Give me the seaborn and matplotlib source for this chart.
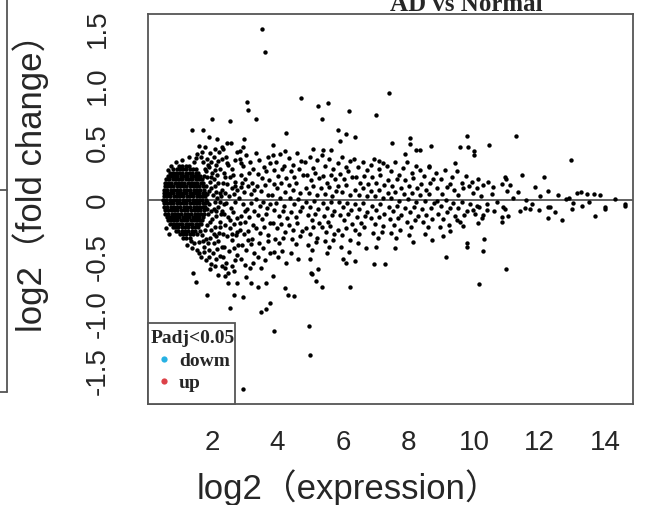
import matplotlib
matplotlib.use("Agg")
import matplotlib.pyplot as plt
from matplotlib.lines import Line2D
from matplotlib.patches import Rectangle
import seaborn as sns
import pandas as pd

# ---------------- data ----------------
x_ticks = [2, 4, 6, 8, 10, 12, 14]
y_ticks = [-1.5, -1.0, -0.5, 0, 0.5, 1.0, 1.5]
y_tick_labels = ["-1.5", "-1.0", "-0.5", "0", "0.5", "1.0", "1.5"]
title_text = "AD vs Normal"
x_label = "log2\uff08expression\uff09"
y_label = "log2\uff08fold change\uff09"
legend_title = "Padj<0.05"
legend_labels = ["dowm", "up"]
legend_colors = ["#27b1e3", "#dc4148"]

# dense core of low-expression genes: one y level per row
blob_y_levels = [0.30, 0.27, 0.24, 0.21, 0.18, 0.15, 0.12, 0.09, 0.06, 0.03, 0.00,
                 -0.03, -0.06, -0.09, -0.12, -0.15, -0.18, -0.21, -0.24, -0.27, -0.30, -0.33]
blob_x_rows = [
    [1.00, 1.10, 1.20, 1.30],
    [0.82, 0.92, 1.02, 1.12, 1.22, 1.32, 1.42, 1.50],
    [0.72, 0.80, 0.90, 1.00, 1.10, 1.20, 1.30, 1.40, 1.50, 1.58],
    [0.66, 0.75, 0.85, 0.95, 1.05, 1.15, 1.25, 1.35, 1.45, 1.55, 1.64],
    [0.61, 0.70, 0.80, 0.90, 1.00, 1.10, 1.20, 1.30, 1.40, 1.50, 1.60, 1.69],
    [0.58, 0.66, 0.76, 0.86, 0.96, 1.06, 1.16, 1.26, 1.36, 1.46, 1.56, 1.66, 1.72],
    [0.56, 0.63, 0.72, 0.82, 0.92, 1.02, 1.12, 1.22, 1.32, 1.42, 1.52, 1.62, 1.74],
    [0.55, 0.64, 0.74, 0.84, 0.94, 1.04, 1.14, 1.24, 1.34, 1.44, 1.54, 1.64, 1.76],
    [0.54, 0.62, 0.72, 0.82, 0.92, 1.02, 1.12, 1.22, 1.32, 1.42, 1.52, 1.62, 1.72, 1.79],
    [0.53, 0.63, 0.73, 0.83, 0.93, 1.03, 1.13, 1.23, 1.33, 1.43, 1.53, 1.63, 1.73, 1.80],
    [0.52, 0.61, 0.71, 0.81, 0.91, 1.01, 1.11, 1.21, 1.31, 1.41, 1.51, 1.61, 1.71, 1.81],
    [0.53, 0.62, 0.72, 0.82, 0.92, 1.02, 1.12, 1.22, 1.32, 1.42, 1.52, 1.62, 1.72, 1.80],
    [0.54, 0.64, 0.74, 0.84, 0.94, 1.04, 1.14, 1.24, 1.34, 1.44, 1.54, 1.64, 1.74, 1.80],
    [0.56, 0.65, 0.75, 0.85, 0.95, 1.05, 1.15, 1.25, 1.35, 1.45, 1.55, 1.65, 1.77],
    [0.58, 0.67, 0.77, 0.87, 0.97, 1.07, 1.17, 1.27, 1.37, 1.47, 1.57, 1.67, 1.75],
    [0.62, 0.71, 0.81, 0.91, 1.01, 1.11, 1.21, 1.31, 1.41, 1.51, 1.61, 1.72],
    [0.66, 0.75, 0.85, 0.95, 1.05, 1.15, 1.25, 1.35, 1.45, 1.55, 1.65, 1.70],
    [0.72, 0.80, 0.90, 1.00, 1.10, 1.20, 1.30, 1.40, 1.50, 1.60, 1.66],
    [0.80, 0.88, 0.98, 1.08, 1.18, 1.28, 1.38, 1.48, 1.58],
    [0.90, 0.98, 1.08, 1.18, 1.28, 1.38, 1.48],
    [1.02, 1.12, 1.22, 1.32, 1.42],
    [1.12, 1.22, 1.32],
]

halo_points = [
    (1.62, 0.47), (1.79, 0.46), (1.66, 0.38), (1.72, 0.33), (1.85, 0.36), (1.95, 0.41),
    (2.05, 0.38), (2.12, 0.31), (1.90, 0.29), (1.78, 0.27), (2.00, 0.24), (2.15, 0.22),
    (2.25, 0.27), (1.85, 0.20), (1.95, 0.16), (2.08, 0.12), (2.20, 0.15), (2.30, 0.09),
    (1.90, 0.08), (2.02, 0.04), (2.15, 0.02), (2.28, 0.03), (1.92, -0.04), (2.05, -0.08),
    (2.18, -0.06), (2.32, -0.10), (1.88, -0.12), (2.00, -0.17), (2.12, -0.14), (2.26, -0.19),
    (1.84, -0.22), (1.96, -0.26), (2.10, -0.24), (2.22, -0.29), (1.70, -0.31), (1.82, -0.34),
    (1.95, -0.33), (2.06, -0.38), (2.20, -0.36), (1.62, -0.37), (1.75, -0.41), (1.90, -0.44),
    (2.02, -0.47), (2.15, -0.43), (2.30, -0.41), (1.55, -0.44), (1.68, -0.50), (1.82, -0.53),
    (1.98, -0.56), (2.12, -0.52), (1.45, -0.38), (1.35, -0.36), (1.25, -0.40), (0.90, 0.33),
    (1.10, 0.35), (1.30, 0.38), (1.45, 0.33), (1.55, 0.40), (0.75, 0.30), (0.65, 0.26),
    (0.60, -0.25), (0.70, -0.30), (1.55, -0.30), (1.65, -0.27),
    (1.82, 0.12), (1.86, 0.05), (1.84, -0.02), (1.86, -0.08), (1.83, 0.25), (1.88, 0.31),
    (1.76, 0.21), (1.98, 0.33), (2.08, 0.26), (2.18, 0.34), (1.93, -0.19), (2.05, -0.30),
    (1.78, -0.26), (1.74, -0.36), (1.88, -0.38), (2.12, -0.32), (2.24, -0.24), (2.35, -0.30),
    (2.28, -0.12), (2.38, -0.04), (2.34, 0.15), (2.24, 0.06), (2.12, 0.07), (1.98, 0.10),
    (1.96, 0.20), (2.06, 0.18), (2.10, -0.02), (1.98, -0.10), (2.14, -0.10), (2.24, -0.02),
    (2.40, 0.20), (2.45, 0.32), (2.32, 0.36), (2.22, 0.42), (2.10, 0.45), (1.70, 0.42),
    (1.50, 0.37), (1.40, -0.42), (1.60, -0.47), (1.75, -0.46), (1.92, -0.50), (2.08, -0.58),
    (2.25, -0.49), (2.30, -0.58), (2.40, -0.60), (2.20, -0.66), (2.65, 0.22), (2.55, -0.18),
    (2.62, -0.30), (2.70, 0.12), (2.80, -0.40), (2.90, 0.32), (3.00, -0.10), (3.10, -0.35),
    (2.85, -0.20), (2.92, 0.15),
]

band_low_points = [  # x 2.3 - 4.3
    (2.35, 0.45), (2.42, 0.38), (2.50, 0.31), (2.38, 0.24), (2.55, 0.20), (2.62, 0.27),
    (2.70, 0.35), (2.78, 0.42), (2.45, 0.14), (2.60, 0.10), (2.72, 0.16), (2.40, 0.06),
    (2.52, 0.03), (2.66, 0.05), (2.76, 0.09), (2.44, -0.03), (2.58, -0.07), (2.70, -0.02),
    (2.36, -0.12), (2.50, -0.15), (2.64, -0.11), (2.77, -0.16), (2.40, -0.22), (2.55, -0.25),
    (2.68, -0.21), (2.78, -0.28), (2.46, -0.32), (2.60, -0.35), (2.74, -0.31), (2.38, -0.41),
    (2.52, -0.45), (2.66, -0.42), (2.78, -0.48), (2.44, -0.55), (2.60, -0.58), (2.72, -0.53),
    (2.50, -0.64), (2.68, -0.62), (2.35, -0.50), (2.58, 0.50),
    (2.85, 0.36), (2.95, 0.30), (3.05, 0.39), (3.15, 0.33), (3.25, 0.27), (2.90, 0.22),
    (3.00, 0.18), (3.12, 0.24), (3.22, 0.15), (2.88, 0.11), (2.98, 0.07), (3.10, 0.12),
    (3.20, 0.05), (3.28, 0.09), (2.84, 0.02), (2.94, -0.04), (3.06, -0.08), (3.18, -0.03),
    (3.27, -0.10), (2.90, -0.14), (3.02, -0.19), (3.14, -0.15), (3.24, -0.22), (2.86, -0.26),
    (2.98, -0.30), (3.10, -0.27), (3.22, -0.34), (2.92, -0.40), (3.05, -0.44), (3.18, -0.39),
    (3.28, -0.47), (2.88, -0.52), (3.00, -0.57), (3.15, -0.60), (3.26, -0.55), (2.95, 0.46),
    (3.35, 0.41), (3.45, 0.35), (3.58, 0.29), (3.70, 0.38), (3.78, 0.32), (3.40, 0.23),
    (3.52, 0.19), (3.64, 0.25), (3.75, 0.17), (3.38, 0.12), (3.50, 0.08), (3.62, 0.13),
    (3.72, 0.04), (3.34, 0.01), (3.46, -0.05), (3.56, -0.02), (3.68, -0.07), (3.78, -0.04),
    (3.42, -0.13), (3.54, -0.17), (3.66, -0.12), (3.76, -0.20), (3.36, -0.25), (3.48, -0.29),
    (3.60, -0.24), (3.72, -0.31), (3.44, -0.38), (3.56, -0.42), (3.70, -0.36), (3.40, -0.50),
    (3.62, -0.53), (3.76, -0.47), (3.50, -0.60),
    (3.85, 0.39), (3.95, 0.33), (4.08, 0.40), (4.20, 0.30), (3.90, 0.26), (4.02, 0.21),
    (4.14, 0.27), (4.26, 0.19), (3.88, 0.14), (4.00, 0.10), (4.12, 0.15), (4.24, 0.07),
    (3.84, 0.04), (3.96, -0.03), (4.08, 0.02), (4.20, -0.05), (3.90, -0.09), (4.04, -0.14),
    (4.16, -0.10), (4.28, -0.16), (3.86, -0.20), (3.98, -0.25), (4.10, -0.21), (4.22, -0.28),
    (3.92, -0.34), (4.06, -0.38), (4.18, -0.33), (3.88, -0.46), (4.02, -0.50), (4.14, -0.45),
    (4.26, -0.55),
]

band_mid_points = [  # x 4.3 - 7.3
    (4.35, 0.37), (4.48, 0.31), (4.60, 0.41), (4.72, 0.34), (4.40, 0.25), (4.52, 0.20),
    (4.66, 0.27), (4.78, 0.22), (4.34, 0.13), (4.46, 0.09), (4.58, 0.15), (4.70, 0.06),
    (4.38, 0.02), (4.50, -0.04), (4.62, 0.01), (4.74, -0.06), (4.42, -0.11), (4.56, -0.15),
    (4.68, -0.10), (4.36, -0.22), (4.48, -0.26), (4.60, -0.20), (4.74, -0.27), (4.44, -0.34),
    (4.58, -0.39), (4.70, -0.32), (4.40, -0.47), (4.64, -0.52),
    (4.85, 0.33), (4.98, 0.38), (5.10, 0.28), (5.22, 0.35), (4.90, 0.22), (5.02, 0.17),
    (5.14, 0.24), (5.26, 0.19), (4.86, 0.10), (4.96, 0.06), (5.08, 0.12), (5.20, 0.04),
    (4.88, -0.02), (5.00, -0.06), (5.12, -0.01), (5.24, -0.08), (4.92, -0.13), (5.04, -0.18),
    (5.16, -0.12), (5.28, -0.20), (4.86, -0.25), (4.98, -0.30), (5.10, -0.24), (5.22, -0.33),
    (4.94, -0.40), (5.06, -0.44), (5.18, -0.37), (5.00, -0.52),
    (5.35, 0.39), (5.46, 0.30), (5.58, 0.36), (5.70, 0.27), (5.40, 0.21), (5.52, 0.15),
    (5.64, 0.22), (5.76, 0.18), (5.34, 0.10), (5.44, 0.05), (5.56, 0.11), (5.68, 0.03),
    (5.78, 0.08), (5.38, -0.03), (5.50, -0.07), (5.62, -0.02), (5.74, -0.10), (5.42, -0.14),
    (5.54, -0.19), (5.66, -0.13), (5.36, -0.24), (5.48, -0.28), (5.60, -0.23), (5.72, -0.30),
    (5.44, -0.36), (5.58, -0.41), (5.70, -0.35), (5.52, -0.47),
    (5.84, 0.32), (5.96, 0.38), (6.08, 0.29), (6.20, 0.34), (5.90, 0.23), (6.02, 0.18),
    (6.14, 0.25), (6.26, 0.20), (5.86, 0.12), (5.98, 0.07), (6.10, 0.13), (6.22, 0.04),
    (5.88, -0.02), (6.00, -0.06), (6.12, -0.03), (6.24, -0.09), (5.92, -0.13), (6.04, -0.18),
    (6.16, -0.12), (6.28, -0.21), (5.86, -0.26), (5.98, -0.31), (6.10, -0.25), (6.22, -0.35),
    (5.94, -0.41), (6.18, -0.46),
    (6.34, 0.36), (6.46, 0.29), (6.60, 0.33), (6.72, 0.26), (6.40, 0.20), (6.52, 0.15),
    (6.64, 0.21), (6.76, 0.14), (6.36, 0.09), (6.48, 0.04), (6.60, 0.10), (6.72, 0.03),
    (6.38, -0.04), (6.50, -0.08), (6.62, -0.03), (6.74, -0.11), (6.42, -0.15), (6.56, -0.20),
    (6.68, -0.14), (6.36, -0.26), (6.50, -0.30), (6.64, -0.24), (6.46, -0.38), (6.70, -0.42),
    (6.84, 0.31), (6.96, 0.36), (7.10, 0.27), (7.22, 0.32), (6.88, 0.20), (7.00, 0.15),
    (7.12, 0.22), (7.24, 0.13), (6.86, 0.08), (6.98, 0.03), (7.10, 0.09), (7.22, 0.02),
    (6.90, -0.05), (7.02, -0.09), (7.14, -0.04), (7.26, -0.12), (6.86, -0.16), (6.98, -0.21),
    (7.10, -0.15), (7.22, -0.23), (6.92, -0.29), (7.06, -0.33), (7.18, -0.28), (7.00, -0.41),
]

band_high_points = [  # x 7.3 - 10.3
    (7.34, 0.30), (7.48, 0.25), (7.60, 0.33), (7.72, 0.22), (7.38, 0.17), (7.50, 0.12),
    (7.64, 0.18), (7.76, 0.10), (7.36, 0.06), (7.48, 0.02), (7.60, 0.07), (7.72, -0.01),
    (7.40, -0.06), (7.54, -0.10), (7.66, -0.05), (7.78, -0.13), (7.42, -0.17), (7.56, -0.22),
    (7.68, -0.16), (7.46, -0.29), (7.62, -0.33), (7.74, -0.26),
    (7.84, 0.28), (7.96, 0.33), (8.10, 0.24), (8.22, 0.30), (7.88, 0.17), (8.00, 0.12),
    (8.14, 0.19), (8.26, 0.10), (7.86, 0.05), (7.98, 0.01), (8.12, 0.06), (8.24, -0.02),
    (7.90, -0.07), (8.04, -0.11), (8.16, -0.06), (8.28, -0.14), (7.94, -0.19), (8.08, -0.24),
    (8.20, -0.18), (8.00, -0.31),
    (8.34, 0.26), (8.48, 0.21), (8.62, 0.29), (8.76, 0.18), (8.38, 0.14), (8.52, 0.09),
    (8.66, 0.15), (8.36, 0.04), (8.50, -0.01), (8.64, 0.05), (8.78, -0.03), (8.40, -0.08),
    (8.54, -0.13), (8.68, -0.07), (8.44, -0.19), (8.58, -0.24), (8.72, -0.17), (8.50, -0.30),
    (8.84, 0.24), (8.98, 0.18), (9.12, 0.26), (9.26, 0.14), (8.88, 0.10), (9.02, 0.05),
    (9.16, 0.11), (8.86, -0.01), (9.00, -0.05), (9.14, 0.00), (9.28, -0.07), (8.90, -0.12),
    (9.04, -0.17), (9.18, -0.11), (8.96, -0.24), (9.22, -0.22),
    (9.34, 0.20), (9.48, 0.25), (9.62, 0.15), (9.76, 0.21), (9.38, 0.09), (9.52, 0.04),
    (9.66, 0.10), (9.36, -0.03), (9.50, -0.07), (9.64, -0.02), (9.78, -0.10), (9.42, -0.14),
    (9.56, -0.19), (9.70, -0.13),
    (9.84, 0.12), (9.96, 0.06), (10.10, 0.10), (10.22, 0.03), (9.88, -0.04), (10.02, -0.12),
    (10.16, -0.06), (10.26, -0.13),
]

upper_points = [
    (3.53, 1.50), (3.61, 1.30), (4.72, 0.89), (3.06, 0.86), (3.10, 0.79), (2.01, 0.71),
    (2.54, 0.69), (3.34, 0.71), (1.40, 0.61), (1.73, 0.61), (4.26, 0.59), (1.91, 0.55),
    (2.16, 0.53), (2.98, 0.53), (2.46, 0.50), (3.86, 0.48), (2.31, 0.46), (4.24, 0.43),
    (2.85, 0.43), (7.40, 0.94), (5.25, 0.82), (5.53, 0.85), (5.36, 0.71), (6.17, 0.78),
    (7.01, 0.74), (5.86, 0.61), (6.09, 0.58), (6.38, 0.55), (5.91, 0.52), (7.49, 0.50),
    (8.06, 0.54), (8.05, 0.49), (9.78, 0.56), (9.57, 0.46), (9.83, 0.46), (8.23, 0.44),
    (8.35, 0.44), (8.68, 0.47), (7.89, 0.40), (5.09, 0.45), (5.40, 0.44), (5.64, 0.44),
    (9.41, 0.32), (8.62, 0.30), (7.11, 0.34), (11.27, 0.56), (10.46, 0.48), (10.01, 0.43),
    (10.01, 0.39), (12.96, 0.35),
]

right_points = [
    (11.47, 0.22), (12.12, 0.20), (10.95, 0.20), (10.98, 0.18), (9.93, 0.16), (10.13, 0.18),
    (10.28, 0.13), (10.44, 0.16), (10.59, 0.11), (10.54, 0.05), (10.85, 0.14), (11.10, 0.13),
    (11.35, 0.07), (11.86, 0.11), (12.27, 0.08), (12.57, 0.04), (13.14, 0.06), (13.27, 0.07),
    (13.46, 0.05), (13.66, 0.05), (13.85, 0.04), (10.08, -0.05), (10.39, -0.04), (10.89, -0.06),
    (11.76, -0.04), (12.27, -0.06), (13.03, -0.03), (14.00, -0.06), (14.61, -0.04), (9.98, -0.09),
    (10.39, -0.09), (10.24, -0.16), (10.13, -0.20), (10.85, -0.15), (10.85, -0.19), (10.95, -0.08),
    (11.05, -0.14), (11.40, -0.10), (11.71, -0.08), (11.98, -0.09), (12.25, -0.16), (12.32, -0.06),
    (12.47, -0.11), (12.68, -0.18), (13.00, -0.08), (13.69, -0.14), (14.01, -0.08), (14.61, -0.05),
    (10.31, -0.34), (10.27, -0.45), (10.98, -0.61), (10.16, -0.74), (11.20, 0.02), (11.60, 0.00),
    (12.00, 0.03), (12.80, 0.01), (13.50, -0.02), (10.70, -0.02), (11.00, 0.08), (10.60, -0.10),
    (11.55, -0.07), (12.90, 0.02), (13.30, -0.05), (14.30, 0.01),
]

lower_points = [
    (5.35, -0.76), (6.21, -0.76), (4.99, -1.36), (9.14, -0.50), (9.78, -0.38), (9.78, -0.41),
    (7.28, -0.56), (6.96, -0.56), (6.09, -0.55), (6.00, -0.52), (6.37, -0.54), (5.25, -0.61),
    (5.04, -0.65), (5.18, -0.71), (7.59, -0.42), (8.15, -0.37), (8.71, -0.35), (9.06, -0.32),
    (9.27, -0.27), (9.47, -0.18), (9.67, -0.23), (3.91, -1.15), (2.95, -1.66), (4.96, -1.11),
    (2.54, -0.95), (3.49, -0.98), (3.66, -0.96), (3.76, -0.90), (1.86, -0.83), (2.67, -0.83),
    (2.95, -0.85), (1.42, -0.64), (1.52, -0.72), (1.93, -0.61), (2.39, -0.67), (2.49, -0.73),
    (2.77, -0.73), (3.05, -0.68), (3.20, -0.73), (3.40, -0.76), (3.66, -0.73), (3.86, -0.67),
    (4.22, -0.77), (4.32, -0.83), (4.52, -0.84), (5.03, -0.64),
]

# ---------------- assemble ----------------
blob_points = [(x, y) for y, row in zip(blob_y_levels, blob_x_rows) for x in row]
all_points = (blob_points + halo_points + band_low_points + band_mid_points
              + band_high_points + upper_points + right_points + lower_points)
df = pd.DataFrame(all_points, columns=["A", "M"])

sns.set_style("white")
plt.rcParams["font.family"] = ["Liberation Sans", "Noto Sans CJK SC", "DejaVu Sans"]

W, H = 645, 505
fig = plt.figure(figsize=(W / 100, H / 100), dpi=100)
ax = fig.add_axes([148 / W, 1 - 404 / H, (633 - 148) / W, (404 - 14) / H])

sns.scatterplot(data=df, x="A", y="M", color="black", s=10, linewidth=0, ax=ax, legend=False)
ax.axhline(0, color="#555555", lw=1.3, zorder=0)

ax.set_xlim(0.05, 14.85)
ax.set_ylim(-1.79, 1.63)
ax.set_xticks(x_ticks)
ax.set_xticklabels([str(t) for t in x_ticks])
ax.set_yticks(y_ticks)
ax.set_yticklabels(y_tick_labels, rotation=90, va="center")
ax.tick_params(axis="x", direction="out", length=8.5, width=1.1, color="#555555",
               pad=10, labelsize=20)
ax.tick_params(axis="y", direction="out", length=7.5, width=1.1, color="#555555",
               pad=19, labelsize=20)
ax.set_xlabel("")
ax.set_ylabel("")
for sp in ax.spines.values():
    sp.set_color("#555555")
    sp.set_linewidth(1.3)

# axis titles
fig.text(197 / W, 1 - 499 / H, x_label, ha="left", va="baseline", fontsize=25)
fig.text(31 / W, 1 - 332 / H, y_label, ha="center", va="bottom", rotation=90, fontsize=25)

# title (partly cut off at the top edge, as in the reference)
fig.text(466 / W, 1 - 11 / H, title_text, ha="center", va="baseline",
         family="Liberation Serif", weight="bold", fontsize=18)

# legend: white box in the lower-left corner of the plot
ax.add_patch(Rectangle((148 / W, 1 - 404 / H), 87 / W, 81 / H, transform=fig.transFigure,
                       facecolor="white", edgecolor="#555555", lw=1.3, zorder=5, clip_on=False))
handles = [Line2D([], [], linestyle="none", marker="o", markersize=4.5,
                  markerfacecolor=c, markeredgewidth=0) for c in legend_colors]
leg = ax.legend(handles, legend_labels, title=legend_title, loc="upper left",
                bbox_to_anchor=(149 / W, 1 - 328 / H), bbox_transform=fig.transFigure,
                borderaxespad=0, frameon=False,
                prop={"family": "Liberation Serif", "weight": "bold", "size": 14},
                title_fontproperties={"family": "Liberation Serif", "weight": "bold", "size": 14},
                handlelength=1.3, handletextpad=0.15, labelspacing=0.2, borderpad=0.1)
leg._legend_box.align = "left"
leg._legend_box.sep = 4
leg.set_zorder(6)

# edge of the neighbouring panel visible at the far left
for xs, ys in [([7, 7], [0, 392]), ([0, 7], [190, 190]), ([0, 7], [392, 392])]:
    fig.add_artist(Line2D([x / W for x in xs], [1 - y / H for y in ys],
                          transform=fig.transFigure, color="#555555", lw=1.3))

fig.savefig("out.png", dpi=100)
